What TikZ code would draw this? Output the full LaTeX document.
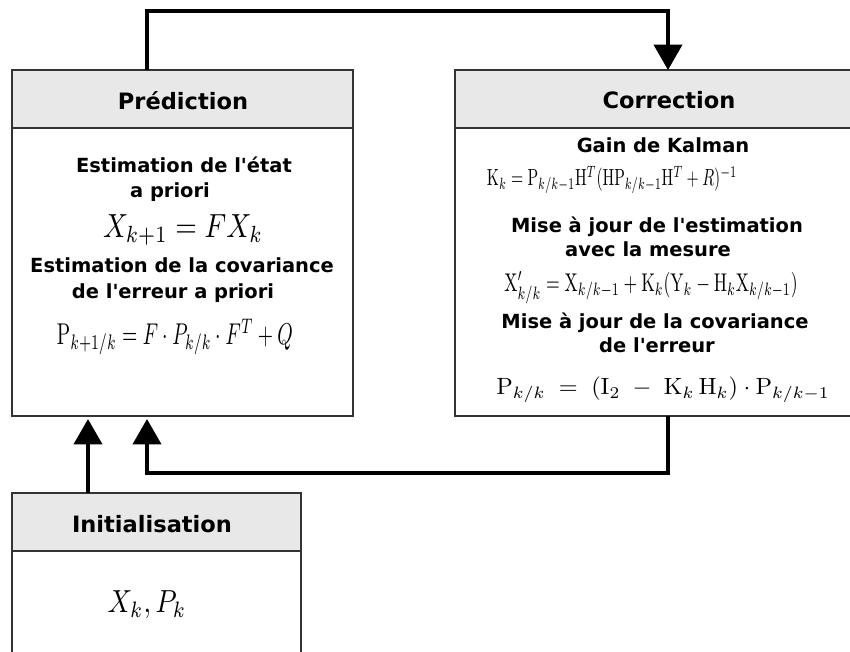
\documentclass[tikz,border=0pt]{standalone}
\usepackage[no-math]{fontspec}
\usepackage{graphicx}
\usetikzlibrary{arrows.meta}
\newfontfamily\boxfont{DejaVu Sans}
\definecolor{hdrfill}{HTML}{E8E8E8}
\definecolor{edge}{HTML}{333333}
\tikzset{
  bodybox/.style={draw=edge, line width=1.5pt, fill=white, inner sep=0pt, outer sep=0pt},
  hdrbox/.style={draw=edge, line width=1.5pt, fill=hdrfill, inner sep=0pt, outer sep=0pt},
  hdrtext/.style={anchor=base, inner sep=0pt, font=\boxfont\bfseries\fontsize{16.9}{20}\selectfont},
  bodytext/.style={anchor=base, inner sep=0pt, font=\boxfont\bfseries\fontsize{14.6}{18}\selectfont},
  formula/.style={anchor=center, inner sep=0pt},
  conn/.style={line width=3pt, draw=black, -{Triangle[length=19pt,width=21pt]}}
}
\begin{document}
\begin{tikzpicture}[x=0.75pt, y=-0.75pt]
\useasboundingbox (0,0) rectangle (850,651);
\clip (0,0) rectangle (850,651);
% boxes
\node[bodybox, minimum width=255.75pt, minimum height=259.5pt] (pred) at (182.5,243) {};
\node[hdrbox, minimum width=255.75pt, minimum height=43.5pt] (predH) at (182.5,99) {};
\node[bodybox, minimum width=319.5pt, minimum height=259.5pt] (corr) at (668,243) {};
\node[hdrbox, minimum width=319.5pt, minimum height=43.5pt] (corrH) at (668,99) {};
\node[bodybox, minimum width=216.75pt, minimum height=140.25pt] (init) at (156.5,586.5) {};
\node[hdrbox, minimum width=216.75pt, minimum height=43.5pt] (initH) at (156.5,522) {};
% prediction texts
\node[hdrtext] (predT) at (183,109) {Prédiction};
\node[bodytext] (pe1) at (184,172) {Estimation de l'état};
\node[bodytext] (pe2) at (170,197) {a priori};
\node[formula] (pf1) at (183,230) {\resizebox*{120pt}{23pt}{$X_{k+1} = FX_{k}$}};
\node[bodytext] (pc1) at (182,272) {Estimation de la covariance};
\node[bodytext] (pc2) at (173,298) {de l'erreur a priori};
\node[formula] (pf2) at (175,337) {\resizebox*{177pt}{27pt}{$\mathrm{P}_{k+1/k} = F\cdot P_{k/k}\cdot F^{T} + Q$}};
% correction texts
\node[hdrtext] (corrT) at (669,108) {Correction};
\node[bodytext] (cg) at (663,152) {Gain de Kalman};
\node[formula] (cf1) at (612,180) {\resizebox*{187.5pt}{21pt}{$\mathrm{K}_{k} = \mathrm{P}_{k/k-1}\mathrm{H}^{T}(\mathrm{H}\mathrm{P}_{k/k-1}\mathrm{H}^{T}+R)^{-1}$}};
\node[bodytext] (ce1) at (657,232) {Mise à jour de l'estimation};
\node[bodytext] (ce2) at (648,256) {avec la mesure};
\node[formula] (cf2) at (651,288) {\resizebox*{220pt}{24pt}{$\mathrm{X}'_{k/k} = \mathrm{X}_{k/k-1}+\mathrm{K}_{k}(\mathrm{Y}_{k}-\mathrm{H}_{k}\mathrm{X}_{k/k-1})$}};
\node[bodytext] (cc1) at (655,328) {Mise à jour de la covariance};
\node[bodytext] (cc2) at (657,352) {de l'erreur};
\node[formula] (cf3) at (663,390) {\resizebox*{250pt}{19.5pt}{$\mathrm{P}_{k/k} \;=\; (\mathrm{I}_{2} \;-\; \mathrm{K}_{k}\,\mathrm{H}_{k})\cdot\mathrm{P}_{k/k-1}$}};
% initialisation texts
\node[hdrtext] (initT) at (152,532) {Initialisation};
\node[formula] (if1) at (147,605) {\resizebox*{59pt}{21pt}{$X_{k}, P_{k}$}};
% connectors
\coordinate (t1) at (147,11);
\coordinate (t2) at (668,11);
\coordinate (r1) at (668,473);
\coordinate (r2) at (147,473);
\coordinate (i1) at (88,473);
\draw[conn] (predH.north -| t1) -- (t1) -- (t2) -- (corrH.north -| t2);
\draw[conn] (corr.south -| r1) -- (r1) -- (r2) -- ([yshift=-2.25pt]pred.south -| r2);
\draw[conn] (initH.north -| i1) -- ([yshift=-2.25pt]pred.south -| i1);
\end{tikzpicture}
\end{document}
